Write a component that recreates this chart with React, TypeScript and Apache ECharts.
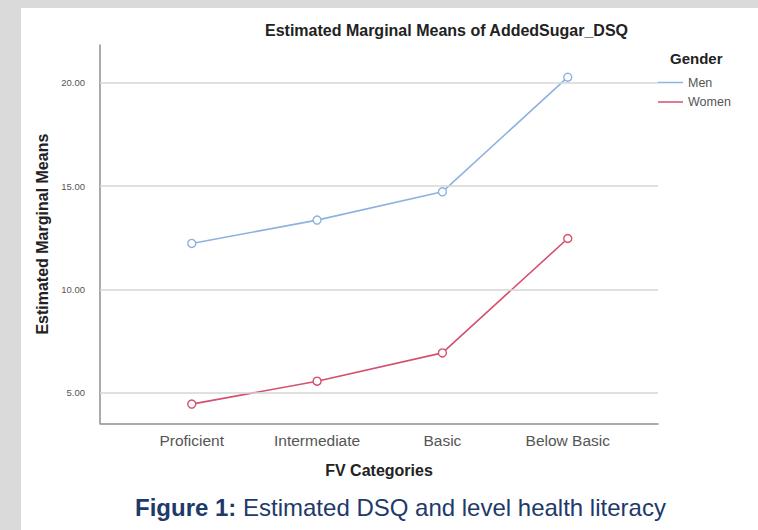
import React, { useEffect, useRef } from "react";
import * as echarts from "echarts";

const categories = ["Proficient", "Intermediate", "Basic", "Below Basic"];
const menValues = [12.23, 13.36, 14.73, 20.28];
const womenValues = [4.45, 5.56, 6.93, 12.47];
const yTicks = [5, 10, 15, 20];
const seriesNames = ["Men", "Women"];

const MEN_COLOR = "#8db2e0";
const WOMEN_COLOR = "#d4506e";
const FONT = '"Liberation Sans", Arial, sans-serif';
const NARROW = '"Liberation Sans Narrow", "Liberation Sans", Arial, sans-serif';

export default function App() {
  const ref = useRef<HTMLDivElement>(null);
  useEffect(() => {
    if (!ref.current) return;
    const chart = echarts.init(ref.current, null, { renderer: "svg" });
    const axisLineStyle = { color: "#8e8e8e", width: 1.5 };
    const mkSeries = (name: string, vals: number[], color: string) => ({
      type: "line",
      name,
      z: 3,
      data: vals.map((v, i) => [i, v]),
      symbol: "circle",
      symbolSize: 8,
      showSymbol: true,
      itemStyle: { color: "#ffffff", borderColor: color, borderWidth: 1.4 },
      lineStyle: { color, width: 1.6 },
      emphasis: { disabled: true },
    });
    chart.setOption({
      animation: false,
      backgroundColor: "transparent",
      textStyle: { fontFamily: FONT },
      grid: { left: 100, right: 100, top: 45, bottom: 106.7, containLabel: false },
      xAxis: {
        type: "value",
        min: -0.732,
        max: 3.72,
        axisLine: { show: true, onZero: false, lineStyle: axisLineStyle },
        axisTick: { show: false },
        splitLine: { show: false },
        axisLabel: {
          customValues: [0, 1, 2, 3],
          formatter: (v: number) => categories[Math.round(v)] ?? "",
          fontSize: 15.5,
          color: "#555555",
          fontFamily: FONT,
          margin: 9,
        },
        name: "FV Categories",
        nameLocation: "middle",
        nameGap: 39,
        nameTextStyle: { fontWeight: "bold", fontSize: 16, color: "#222222", fontFamily: FONT },
      },
      yAxis: {
        type: "value",
        min: 3.52,
        max: 21.84,
        axisLine: { show: true, onZero: false, lineStyle: axisLineStyle },
        axisTick: { show: false },
        splitLine: { show: false },
        axisLabel: {
          customValues: yTicks,
          formatter: (v: number) => v.toFixed(2),
          fontSize: 9.5,
          color: "#555555",
          fontFamily: NARROW,
          margin: 15,
        },
        name: "Estimated Marginal Means",
        nameLocation: "middle",
        nameGap: 48,
        nameTextStyle: { fontWeight: "bold", fontSize: 16, color: "#222222", fontFamily: FONT },
      },
      legend: {
        orient: "vertical",
        left: 658,
        top: 76,
        padding: 0,
        itemWidth: 25,
        itemHeight: 1.5,
        itemGap: 6.5,
        selectedMode: false,
        textStyle: { fontSize: 12.5, color: "#555555", fontFamily: FONT },
        data: [
          { name: seriesNames[0], icon: "rect", itemStyle: { color: MEN_COLOR, borderWidth: 0 } },
          { name: seriesNames[1], icon: "rect", itemStyle: { color: WOMEN_COLOR, borderWidth: 0 } },
        ],
      },
      graphic: [
        {
          type: "text",
          left: 265,
          top: 22,
          style: {
            text: "Estimated Marginal Means of AddedSugar_DSQ",
            font: `bold 16px ${FONT}`,
            fill: "#222222",
          },
        },
        {
          type: "text",
          left: 670,
          top: 51,
          style: { text: "Gender", font: `bold 15px ${FONT}`, fill: "#222222" },
        },
        {
          type: "text",
          left: 135,
          top: 495,
          style: {
            text: "{b|Figure 1:} Estimated DSQ and level health literacy",
            font: `24px ${FONT}`,
            fill: "#1e3a6b",
            rich: {
              b: { fontWeight: "bold", fontSize: 24, fontFamily: FONT, fill: "#1e3a6b" },
            },
          },
        },
      ],
      series: [
        {
          type: "line",
          name: "__grid",
          z: 1,
          data: [],
          silent: true,
          markLine: {
            silent: true,
            symbol: ["none", "none"],
            label: { show: false },
            lineStyle: { color: "#d6d6d6", width: 1.5, type: "solid" },
            emphasis: { disabled: true },
            data: yTicks.map((v) => ({ yAxis: v })),
          },
        },
        mkSeries(seriesNames[0], menValues, MEN_COLOR),
        mkSeries(seriesNames[1], womenValues, WOMEN_COLOR),
      ],
    });
    return () => chart.dispose();
  }, []);

  return (
    <div style={{ position: "fixed", left: 0, top: 0, width: 758, height: 530, background: "#dadada", overflow: "hidden" }}>
      <div style={{ position: "absolute", left: 21, top: 8, right: 0, bottom: 0, background: "#ffffff" }} />
      <div ref={ref} style={{ position: "absolute", left: 0, top: 0, width: 758, height: 530 }} />
    </div>
  );
}
